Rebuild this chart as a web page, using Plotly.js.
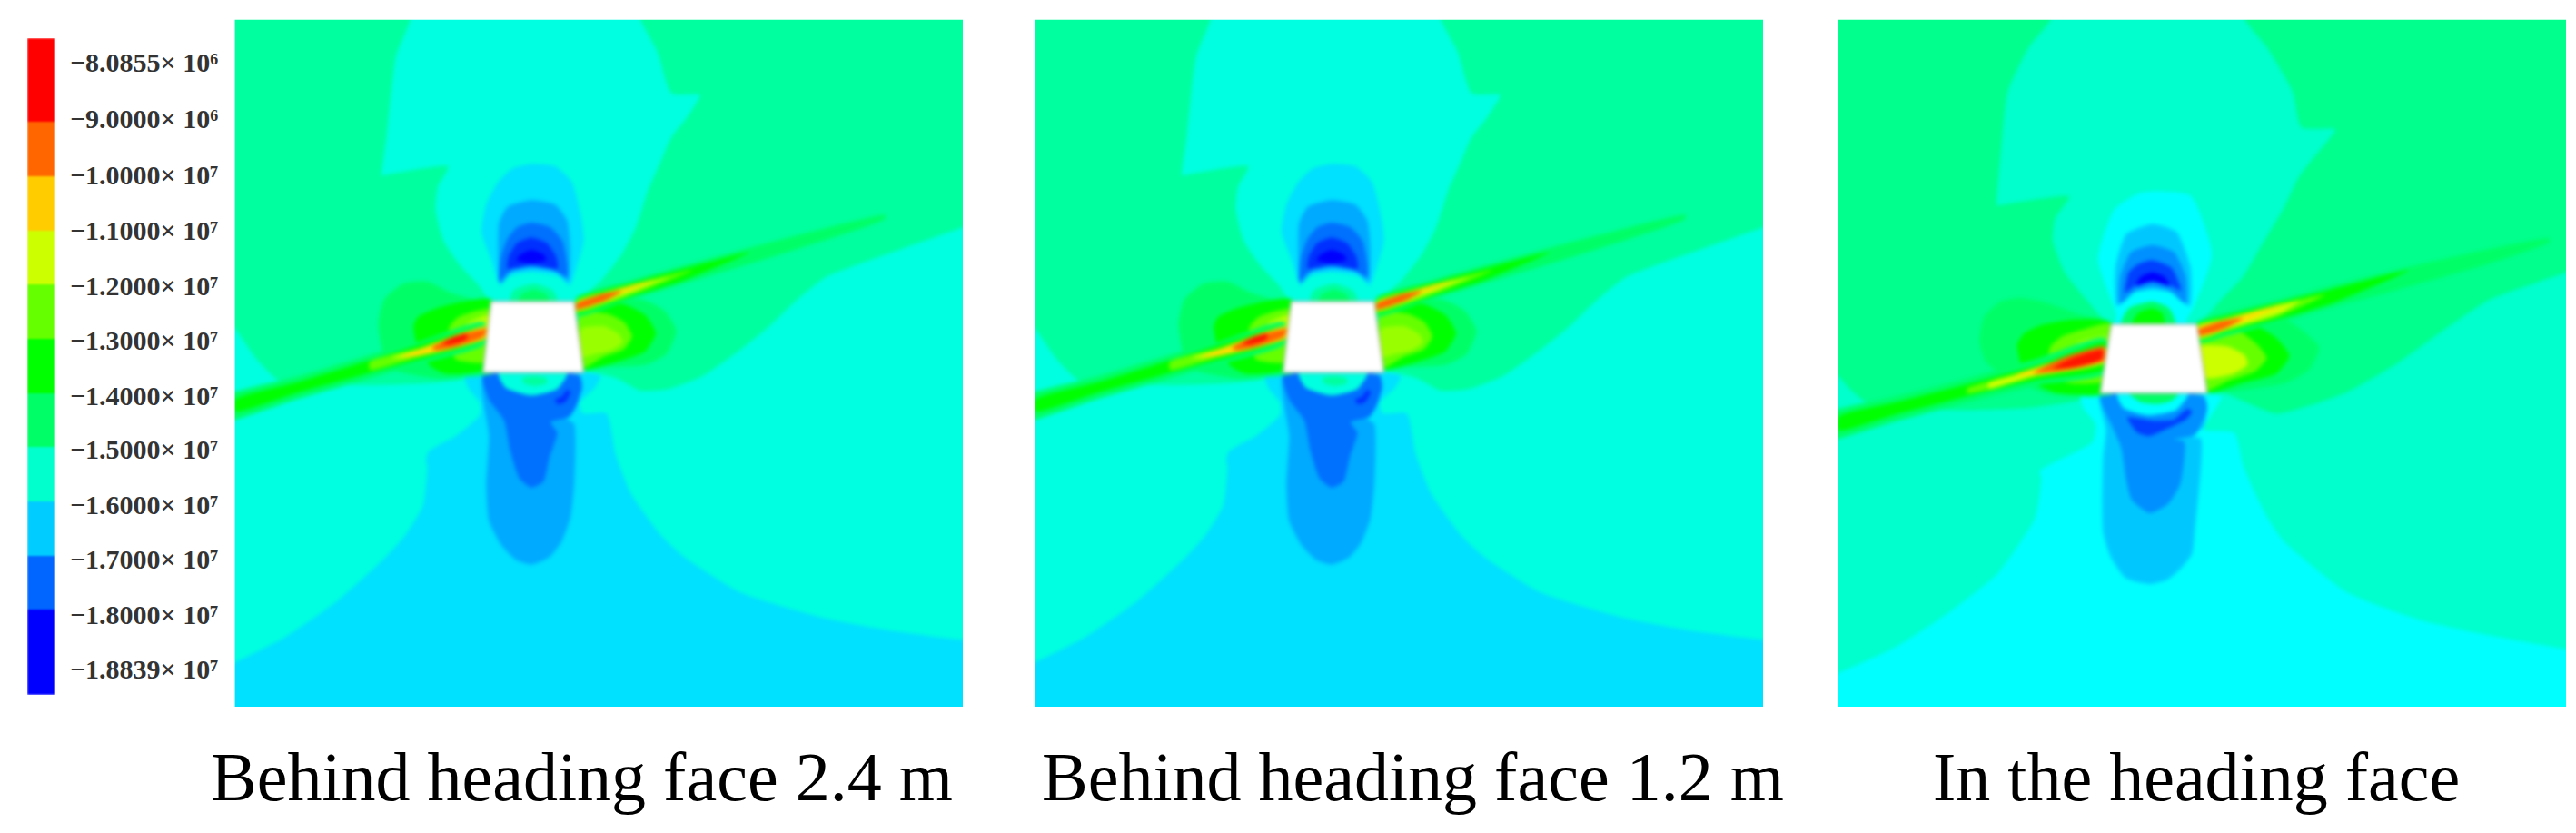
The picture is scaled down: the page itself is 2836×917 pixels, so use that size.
<!DOCTYPE html>
<html><head><meta charset="utf-8">
<script src="https://cdn.plot.ly/plotly-3.0.1.min.js"></script>
<style>html,body{margin:0;padding:0;background:#fff}#chart{width:2836px;height:917px}</style>
</head><body><div id="chart"></div>
<script>
// ---- legend ----
const legendColors=['#0000ff','#0066ff','#00ccff','#00ffcc','#00ff66','#00ff00','#66ff00','#ccff00','#ffcc00','#ff6600','#ff0000'];
const legendEdges=[0,1.57,2.57,3.57,4.57,5.57,6.57,7.57,8.57,9.57,10.57,12.12];
const legendTickPos=[11.67,10.63,9.6,8.58,7.56,6.55,5.53,4.53,3.52,2.51,1.48,0.47];
const legendTickText=['−8.0855× 10⁶','−9.0000× 10⁶','−1.0000× 10⁷','−1.1000× 10⁷','−1.2000× 10⁷','−1.3000× 10⁷','−1.4000× 10⁷','−1.5000× 10⁷','−1.6000× 10⁷','−1.7000× 10⁷','−1.8000× 10⁷','−1.8839× 10⁷'];
const captions=['Behind heading face 2.4 m','Behind heading face 1.2 m','In the heading face'];

const aBase=[[-50,-50],[1620,-50],[1620,1620],[-50,1620]];
const aGreen=[[-50,-50],[390,-50],[385,20],[355,100],[345,180],[335,280],[325,365],[327,365],[465,345],[443,390],[438,440],[455,510],[490,565],[530,610],[555,645],[640,640],[730,645],[785,600],[830,540],[860,480],[885,400],[910,340],[935,280],[965,240],[995,190],[993,186],[935,183],[905,90],[870,20],[860,-50],[1620,-50],[1620,455],[1548,480],[1400,535],[1260,590],[1200,640],[1140,700],[1075,755],[1000,810],[930,838],[870,842],[820,815],[760,800],[540,800],[490,818],[430,825],[300,830],[110,820],[60,770],[16,705],[-50,640]];
const aBottom=[[-50,1480],[16,1445],[120,1390],[230,1310],[330,1215],[374,1164],[412,1097],[421,1010],[418,997],[424,977],[481,943],[532,896],[532,869],[507,836],[500,809],[785,809],[773,836],[741,869],[748,893],[798,893],[817,983],[849,1070],[913,1164],[960,1210],[1080,1290],[1250,1345],[1400,1375],[1548,1395],[1620,1400],[1620,1620],[-50,1620]];
const aT17=[[640,340],[690,345],[725,380],[745,460],[750,510],[735,570],[720,610],[700,590],[640,580],[590,590],[575,610],[555,550],[535,490],[545,430],[570,380],[600,350]];
const aT18=[[640,420],[690,430],[715,465],[722,530],[718,600],[690,578],[640,572],[600,580],[575,605],[570,540],[572,470],[590,435]];
const aT19=[[640,470],[680,480],[705,510],[715,560],[715,590],[680,572],[640,565],[600,572],[572,600],[575,550],[590,505],[610,480]];
const aT20=[[640,503],[672,515],[692,545],[695,572],[640,565],[590,572],[592,545],[610,515]];
const aT21=[[640,530],[665,540],[672,552],[640,560],[608,552],[618,540]];
const aDomeRing=[[575,645],[582,615],[610,592],[645,585],[685,592],[712,615],[722,645]];
const aDome=[[595,645],[602,620],[645,605],[685,620],[695,645]];
const aDome14=[[612,645],[620,628],[645,618],[670,628],[678,645]];
const aL18=[[538,809],[551,943],[545,1050],[551,1131],[577,1185],[608,1218],[640,1228],[678,1211],[703,1178],[722,1124],[730,1050],[730,916],[713,903],[748,836],[741,809]];
const aL19=[[538,809],[551,862],[583,909],[596,977],[615,1037],[640,1057],[665,1044],[678,990],[694,936],[680,912],[720,900],[735,875],[745,840],[741,809]];
const aSpot=[[690,862],[705,855],[715,840],[722,845],[710,868],[695,872]];
const aRing=[[570,802],[585,835],[640,853],[695,838],[716,802]];
const aRingDome=[[620,815],[645,810],[672,815],[672,826],[645,832],[625,826]];
const aLobeL14=[[318,695],[330,640],[370,605],[420,600],[470,625],[520,640],[570,645],[570,800],[500,812],[440,815],[330,790],[325,750]];
const aLobeL13=[[392,700],[400,680],[440,660],[555,640],[540,795],[460,805],[430,790],[400,745]];
const aLobeL12=[[466,705],[485,680],[552,662],[548,778],[480,772]];
const aLobeL11=[[490,712],[510,690],[550,675],[546,712]];
const aLobeR14=[[745,670],[870,640],[920,665],[945,710],[925,760],[880,785],[800,790],[745,790]];
const aLobeR13=[[745,665],[830,650],[880,675],[902,715],[880,755],[830,775],[748,795]];
const aLobeR12=[[742,672],[800,672],[835,690],[852,722],[835,750],[790,768],[750,790]];
const aLobeR11=[[745,705],[795,700],[825,718],[832,735],[810,752],[770,762],[748,768]];
const aSeamL14=[[-50,870],[150,810],[300,763],[400,735],[540,690],[540,740],[400,785],[300,815],[150,860],[-50,922]];
const aSeamL13=[[16,862],[150,823],[300,775],[400,742],[540,700],[540,730],[400,775],[300,803],[150,846],[16,888]];
const aSeamL12=[[300,778],[400,750],[540,708],[540,728],[400,768],[300,796]];
const aSeamL11=[[345,768],[450,737],[540,708],[540,726],[450,752],[370,770]];
const aSeamL10=[[365,768],[430,740],[500,712],[545,700],[545,725],[470,750],[400,765]];
const aSeamL9=[[430,748],[470,725],[530,708],[545,705],[540,722],[480,745],[440,752]];
const aSeamL8=[[452,738],[480,722],[505,716],[503,728],[470,740]];
const aSeamR14=[[735,635],[850,598],[960,565],[1065,535],[1200,498],[1385,453],[1385,461],[1200,528],[1065,572],[960,605],[850,640],[735,678]];
const aSeamR13=[[735,640],[850,604],[960,572],[1100,535],[960,598],[850,634],[735,672]];
const aSeamR12=[[735,643],[850,608],[980,575],[850,630],[735,668]];
const aSeamR11=[[735,645],[850,612],[930,590],[850,625],[735,665]];
const aSeamR10=[[735,648],[800,625],[900,596],[820,630],[735,662]];
const aSeamR9=[[735,650],[790,628],[830,622],[790,645],[735,662]];
const aTunnel=[[555,645],[730,645],[750,802],[538,802]];

const cBase=[[-50,-50],[1620,-50],[1620,1620],[-50,1620]];
const cGreen=[[-50,-50],[480,-50],[475,20],[430,80],[385,180],[372,300],[362,432],[364,432],[515,412],[485,460],[480,510],[505,580],[550,640],[600,695],[690,690],[785,695],[835,640],[880,590],[925,510],[965,440],[1000,365],[1075,265],[1073,262],[1003,258],[985,180],[930,80],[885,20],[880,-50],[1620,-50],[1620,555],[1560,580],[1400,640],[1300,710],[1200,785],[1100,845],[1020,875],[950,893],[880,865],[840,848],[575,848],[530,865],[430,880],[300,885],[130,880],[90,870],[50,835],[29,810],[-50,760]];
const cBottom=[[-50,1500],[29,1468],[150,1410],[260,1335],[361,1251],[399,1198],[443,1124],[456,1037],[453,1020],[564,956],[570,916],[545,882],[539,855],[835,855],[830,869],[798,929],[862,936],[881,1010],[906,1070],[932,1124],[965,1175],[1100,1290],[1250,1350],[1400,1385],[1560,1415],[1620,1420],[1620,1620],[-50,1620]];
const cHalo=[[695,400],[770,410],[815,540],[775,660],[755,690],[620,690],[610,660],[575,550],[610,440],[660,405]];
const cT17=[[690,473],[740,490],[770,570],[768,655],[730,625],[690,618],[650,625],[615,655],[612,570],[635,495]];
const cT18=[[690,520],[735,535],[760,590],[760,650],[725,620],[690,612],[655,620],[622,650],[622,590],[645,535]];
const cT19=[[690,553],[730,570],[750,620],[725,608],[690,600],[655,608],[632,625],[640,580],[660,562]];
const cT20=[[690,580],[715,590],[726,610],[690,600],[655,610],[665,590]];
const cDomeRing=[[612,695],[625,655],[690,632],[745,655],[762,695]];
const cDome14=[[624,695],[640,660],[690,645],[725,660],[738,695]];
const cDome13=[[646,695],[660,670],[690,660],[710,670],[716,695]];
const cL18=[[580,855],[592,929],[586,990],[586,1157],[602,1211],[634,1258],[684,1271],[722,1261],[748,1238],[773,1204],[779,1151],[792,949],[773,943],[798,922],[805,882],[798,855]];
const cL19=[[580,855],[605,922],[624,969],[634,1037],[646,1084],[684,1114],[722,1094],[748,1050],[757,956],[735,950],[780,940],[805,882],[798,855]];
const cL20=[[637,902],[659,936],[684,943],[722,926],[760,906],[773,889],[764,882],[735,906],[690,909]];
const cRing=[[615,845],[628,880],[680,897],[740,885],[767,845]];
const cRingDome=[[640,848],[665,868],[700,872],[730,865],[745,848]];
const cLobeL14=[[326,734],[335,680],[370,645],[412,637],[463,647],[539,674],[610,695],[610,848],[520,855],[470,850],[380,810],[340,780]];
const cLobeL13=[[405,741],[420,715],[456,697],[520,685],[600,690],[590,845],[490,848],[440,825],[415,790]];
const cLobeL12=[[475,745],[500,722],[540,708],[600,695],[590,820],[510,825],[470,800]];
const cLobeL11=[[510,760],[535,735],[592,722],[590,752]];
const cLobeR14=[[790,700],[960,680],[1000,705],[1040,745],[1020,795],[970,825],[880,840],[805,845]];
const cLobeR13=[[790,705],[900,695],[950,725],[978,765],[950,805],[880,825],[805,845]];
const cLobeR12=[[790,710],[870,710],[910,740],[930,770],[905,800],[850,820],[805,840]];
const cLobeR11=[[790,745],[850,745],[885,765],[890,785],[860,805],[810,815],[795,810]];
const cSeamL14=[[-50,910],[150,855],[300,815],[450,770],[590,725],[590,805],[450,830],[300,868],[150,910],[-50,965]];
const cSeamL13=[[29,900],[150,868],[300,828],[450,785],[590,735],[590,795],[450,818],[300,855],[150,895],[29,930]];
const cSeamL12=[[300,838],[450,795],[590,750],[590,782],[450,810],[300,848]];
const cSeamL11=[[345,825],[450,795],[590,752],[590,778],[450,806],[345,838]];
const cSeamL10=[[399,808],[450,790],[590,745],[590,778],[450,808]];
const cSeamL9=[[440,803],[500,770],[588,745],[588,775],[500,797]];
const cSeamL8=[[480,793],[520,770],[585,752],[583,772],[530,790]];
const cSeamR14=[[783,690],[850,668],[960,640],[1065,610],[1200,575],[1400,528],[1525,505],[1525,513],[1400,560],[1200,620],[1065,658],[960,690],[850,720],[790,735]];
const cSeamR13=[[783,695],[850,675],[960,646],[1065,618],[1230,575],[1065,650],[960,682],[850,712],[790,730]];
const cSeamR12=[[783,698],[850,680],[960,650],[1052,630],[960,675],[850,708],[790,728]];
const cSeamR11=[[785,700],[850,683],[960,652],[1000,643],[960,670],[850,705],[790,725]];
const cSeamR10=[[785,703],[860,680],[965,652],[880,690],[790,722]];
const cSeamR9=[[785,708],[830,690],[880,682],[840,705],[790,720]];
const cTunnel=[[603,695],[783,695],[805,848],[580,848]];

// ---- styling ----
const W=2836,H=917;
const palA={b:'#00ffe0',g:'#00ff9e',s:'#00e0ff',c18:'#00aaff',c19:'#0070ff',c20:'#0030ff',c21:'#0000ff',c14:'#00ff66',c13:'#00ff00',c12:'#66ff00',c11:'#bbff00',l11:'#99ff00',c10:'#ffdd00',c9:'#ff6600',c8:'#ff1500'};
const palC={b:'#00ffcc',g:'#00ff8c',s:'#00ffff',c18:'#00c8ff',c19:'#0090ff',c20:'#0040ff',c21:'#0000ff',c14:'#00ff66',c13:'#00ff00',c12:'#66ff00',c11:'#ccff00',l11:'#ccff00',c10:'#ffe000',c9:'#ff6600',c8:'#ff1500'};
const layersA=[[aBase,'b'],[aGreen,'g'],[aBottom,'s'],[aT17,'s'],[aT18,'c18'],[aT19,'c19'],[aT20,'c20'],[aT21,'c21'],[aDomeRing,'b'],[aDome,'g'],[aDome14,'c14'],
 [aL18,'c18'],[aL19,'c19'],[aSpot,'c20'],[aRing,'b'],[aRingDome,'g'],
 [aLobeL14,'c14'],[aLobeL13,'c13'],[aLobeL12,'c12'],[aLobeL11,'c11'],[aLobeR14,'c14'],[aLobeR13,'c13'],[aLobeR12,'c12'],[aLobeR11,'l11'],
 [aSeamL14,'c14'],[aSeamL13,'c13'],[aSeamL12,'c12'],[aSeamL11,'c11'],[aSeamL10,'c10'],[aSeamL9,'c9'],[aSeamL8,'c8'],
 [aSeamR14,'c14'],[aSeamR13,'c13'],[aSeamR12,'c12'],[aSeamR11,'c11'],[aSeamR10,'c10'],[aSeamR9,'c9']];
const layersC=[[cBase,'b'],[cGreen,'g'],[cBottom,'s'],[cHalo,'s'],[cT17,'c18'],[cT18,'c19'],[cT19,'c20'],[cT20,'c21'],[cDomeRing,'s'],[cDome14,'c14'],[cDome13,'c13'],
 [cL18,'c18'],[cL19,'c19'],[cL20,'c20'],[cRing,'s'],[cRingDome,'c14'],
 [cLobeL14,'c14'],[cLobeL13,'c13'],[cLobeL12,'c12'],[cLobeL11,'c11'],[cLobeR14,'c14'],[cLobeR13,'c13'],[cLobeR12,'c12'],[cLobeR11,'l11'],
 [cSeamL14,'c14'],[cSeamL13,'c13'],[cSeamL12,'c12'],[cSeamL11,'c11'],[cSeamL10,'c10'],[cSeamL9,'c9'],[cSeamL8,'c8'],
 [cSeamR14,'c14'],[cSeamR13,'c13'],[cSeamR12,'c12'],[cSeamR11,'c11'],[cSeamR10,'c10'],[cSeamR9,'c9']];

const traces=[];
function band(pts,color,ax,ay){
  const closed=pts.concat([pts[0]]);
  traces.push({type:'scatter',mode:'lines',x:closed.map(p=>p[0]),y:closed.map(p=>p[1]),xaxis:ax,yaxis:ay,fill:'toself',fillcolor:color,
    line:{width:0,color:color,shape:'spline',smoothing:0.55},hoverinfo:'skip',showlegend:false});
}
function tunnel(pts,ax,ay){
  const closed=pts.concat([pts[0]]);
  traces.push({type:'scatter',mode:'lines',x:closed.map(p=>p[0]),y:closed.map(p=>p[1]),xaxis:ax,yaxis:ay,fill:'toself',fillcolor:'#ffffff',
    line:{width:1.5,color:'#b0b0b0',shape:'linear'},hoverinfo:'skip',showlegend:false});
}
layersA.forEach(l=>band(l[0],palA[l[1]],'x','y'));tunnel(aTunnel,'x','y');
layersA.forEach(l=>band(l[0],palA[l[1]],'x2','y2'));tunnel(aTunnel,'x2','y2');
layersC.forEach(l=>band(l[0],palC[l[1]],'x3','y3'));tunnel(cTunnel,'x3','y3');

// colour key
const stops=[];legendColors.forEach((c,i)=>{stops.push([i/11,c]);stops.push([(i+1)/11,c]);});
traces.push({type:'heatmap',x:[0,1],y:legendEdges,z:legendColors.map((c,i)=>[i]),zmin:-0.5,zmax:10.5,colorscale:stops,showscale:false,zsmooth:false,xaxis:'x4',yaxis:'y4',hoverinfo:'skip'});

const hidden=(d,r)=>({domain:d,range:r,visible:false,fixedrange:true});
const yd=[1-778/H,1-21.7/H];
const layout={width:W,height:H,margin:{l:0,r:0,t:0,b:0},paper_bgcolor:'#fff',plot_bgcolor:'#fff',showlegend:false,
 xaxis:hidden([258.6/W,1060/W],[16,1548]),yaxis:hidden(yd,[1543,20]),
 xaxis2:hidden([1139.5/W,1941/W],[16,1548]),yaxis2:hidden(yd,[1543,20]),
 xaxis3:hidden([2024/W,2825/W],[29,1560]),yaxis3:hidden(yd,[1543,20]),
 xaxis4:hidden([30/W,61/W],[0,1]),
 yaxis4:{domain:[1-765/H,1-42/H],range:[0,12.12],anchor:'x4',side:'right',showline:false,showgrid:false,zeroline:false,ticks:'outside',ticklen:9,tickcolor:'rgba(0,0,0,0)',tickvals:legendTickPos,ticktext:legendTickText,tickfont:{family:'Liberation Serif',size:30,weight:700,color:'#333'},fixedrange:true},
 annotations:[
  {text:captions[0],x:640/W,y:1-855/H},
  {text:captions[1],x:1555/W,y:1-855/H},
  {text:captions[2],x:2418/W,y:1-855/H}
 ].map(a=>Object.assign(a,{xref:'paper',yref:'paper',xanchor:'center',yanchor:'middle',showarrow:false,font:{family:'Liberation Serif',size:76,color:'#000'}}))
};
Plotly.newPlot('chart',traces,layout,{displayModeBar:false,staticPlot:true}).then(()=>{
  document.querySelectorAll('.scatterlayer').forEach(n=>{n.style.filter='blur(2px)';});
  document.querySelectorAll('.heatmaplayer,.imagelayer').forEach(n=>{n.style.filter='blur(1px)';});
  document.querySelectorAll('.ytick text,.annotation text').forEach(n=>{n.style.filter='blur(0.5px)';});
});
</script></body></html>
